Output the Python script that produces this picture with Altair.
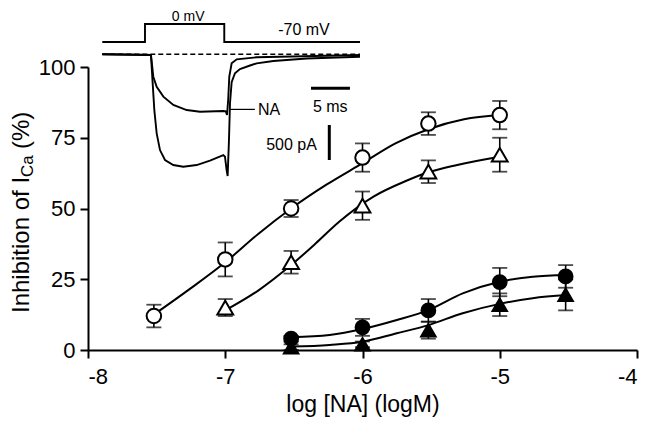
import altair as alt
import pandas as pd

FONT = "Liberation Sans"

# ---------------- main dose-response data (log M, % inhibition, s.e.m.) -------------
x_oc = [-7.52, -7.0, -6.52, -6.0, -5.52, -5.0]
y_oc = [12, 32, 50, 68, 80, 83]
e_oc = [4, 6, 3, 5, 4, 5]

x_ot = [-7.0, -6.52, -6.0, -5.52, -5.0]
y_ot = [15, 31, 51, 63, 69]
e_ot = [3, 4, 5, 4, 6]

x_fc = [-6.52, -6.0, -5.52, -5.0, -4.52]
y_fc = [4, 8, 14, 24, 26]
e_fc = [1, 3, 4, 5, 4]

x_ft = [-6.52, -6.0, -5.52, -5.0, -4.52]
y_ft = [1, 2, 7, 16, 19.5]
e_ft = [1, 1, 3, 4, 5.5]

# fitted curves
cx_oc = [-7.52, -7.26, -7.0, -6.76, -6.52, -6.26, -6.0, -5.76, -5.52, -5.26, -5.0]
cy_oc = [12.5, 21.5, 31, 41, 50, 58.5, 66, 73, 78, 81.5, 83]
cx_ot = [-7.0, -6.76, -6.52, -6.34, -6.17, -5.92, -5.68, -5.52, -5.31, -5.0]
cy_ot = [14, 21, 30, 37.7, 45.3, 54.2, 59.8, 62.8, 65.4, 68.3]
cx_fc = [-6.52, -6.24, -6.0, -5.75, -5.52, -5.27, -5.0, -4.76, -4.51]
cy_fc = [4.5, 5.3, 7.4, 10.6, 14.1, 20.0, 24.1, 25.9, 26.5]
cx_ft = [-6.52, -6.24, -6.0, -5.75, -5.52, -5.27, -5.0, -4.76, -4.51]
cy_ft = [1.2, 1.8, 2.9, 5.9, 8.8, 13.0, 16.3, 18.3, 19.4]

x_ticks = [-8, -7, -6, -5, -4]
y_ticks = [0, 25, 50, 75, 100]

# ---------------- inset: current traces (ms, pA) -----------------------------------
ctl_t = [-5.44, 0.76, 0.98, 1.19, 1.49, 1.91, 2.55, 3.61, 4.88, 6.58, 8.28, 9.98, 10.19,
         10.40, 10.53, 10.70, 10.83, 11.04, 11.46, 12.10, 13.38, 14.23, 16.35, 20.59, 27.39]
ctl_i = [0, -10, -415, -796, -1129, -1368, -1510, -1582, -1606, -1582, -1520, -1439, -1463,
         -1653, -1739, -1225, -700, -400, -270, -210, -160, -130, -95, -60, -35]
na_t = [-5.44, 0.76, 1.06, 1.49, 2.34, 3.61, 5.31, 7.01, 9.98, 10.30, 10.45, 10.60, 10.74,
        11.04, 11.68, 14.23, 27.39]
na_i = [0, -10, -320, -463, -605, -724, -796, -820, -810, -815, -867, -650, -320,
        -129, -72, -43, -10]
vp_t = [-5.44, 0, 0, 10.1, 10.1, 27.39]
vp_i = [176, 176, 433, 433, 176, 176]
base_t = [-5.44, 27.39]
base_i = [0, 0]

# ---------------- tables ------------------------------------------------------------
series = [
    ("oc", x_oc, y_oc, e_oc, cx_oc, cy_oc, "circle", "white", 210),
    ("ot", x_ot, y_ot, e_ot, cx_ot, cy_ot, "triangle-up", "white", 250),
    ("fc", x_fc, y_fc, e_fc, cx_fc, cy_fc, "circle", "black", 190),
    ("ft", x_ft, y_ft, e_ft, cx_ft, cy_ft, "triangle-up", "black", 210),
]

pt_rows, cv_rows = [], []
for name, xs, ys, es, cxs, cys, *_ in series:
    for xv, yv, ev in zip(xs, ys, es):
        pt_rows.append({"s": name, "x": xv, "y": yv, "lo": yv - ev, "hi": yv + ev})
    for i, (xv, yv) in enumerate(zip(cxs, cys)):
        cv_rows.append({"s": name, "x": xv, "y": yv, "k": i})
pts = pd.DataFrame(pt_rows)
cvs = pd.DataFrame(cv_rows)

xscale = alt.Scale(domain=[-8, -4], nice=False, zero=False)
yscale = alt.Scale(domain=[0, 100], nice=False, zero=False)
xaxis = alt.Axis(values=x_ticks, title="log [NA] (logM)", grid=False,
                 labelExpr="'' + datum.value",
                 labelFontSize=22, titleFontSize=23, tickSize=8, tickWidth=2,
                 domainWidth=2, labelPadding=8, titlePadding=6,
                 domainColor="black", tickColor="black", labelColor="black",
                 titleColor="black", labelFont=FONT, titleFont=FONT,
                 titleFontWeight="normal")
yaxis = alt.Axis(values=y_ticks, title=None, grid=False, labelFontSize=22,
                 tickSize=8, tickWidth=2, domainWidth=2, labelPadding=5,
                 domainColor="black", tickColor="black", labelColor="black",
                 labelFont=FONT)


def X(field):
    return alt.X(field, type="quantitative", scale=xscale, axis=xaxis)


def Y(field):
    return alt.Y(field, type="quantitative", scale=yscale, axis=yaxis)


errbar = alt.Chart(pts).mark_rule(color="black", strokeWidth=1.6).encode(
    x=X("x"), y=Y("lo"), y2="hi")
cap_lo = alt.Chart(pts).mark_tick(color="black", orient="horizontal", size=15,
                                  thickness=1.8).encode(x=X("x"), y=Y("lo"))
cap_hi = alt.Chart(pts).mark_tick(color="black", orient="horizontal", size=15,
                                  thickness=1.8).encode(x=X("x"), y=Y("hi"))
curves = alt.Chart(cvs).mark_line(color="black", strokeWidth=2,
                                  interpolate="monotone").encode(
    x=X("x"), y=Y("y"), detail="s:N", order="k:Q")

marker_layers = []
for name, xs, ys, es, cxs, cys, shape, fill, size in series:
    marker_layers.append(
        alt.Chart(pts[pts.s == name]).mark_point(
            shape=shape, filled=True, fill=fill, stroke="black", strokeWidth=2,
            size=size, opacity=1).encode(x=X("x"), y=Y("y"))
    )

# y-axis title with subscript
ytitle = []
for txt, xp, yp, fs in [("Inhibition of I", -66, 246, 24), ("Ca", -60, 110, 17),
                        ("(%)", -66, 82, 24)]:
    ytitle.append(
        alt.Chart(pd.DataFrame({"t": [txt]})).mark_text(
            angle=270, align="left", baseline="middle", font=FONT, fontSize=fs,
            color="black").encode(text="t:N", x=alt.value(xp), y=alt.value(yp))
    )

main = alt.layer(errbar, cap_lo, cap_hi, curves, *marker_layers, *ytitle)

# ---------------- inset ------------------------------------------------------------
tr_rows = []
for name, ts, cs in [("ctl", ctl_t, ctl_i), ("na", na_t, na_i), ("vp", vp_t, vp_i)]:
    for k, (tv, cv) in enumerate(zip(ts, cs)):
        tr_rows.append({"tr": name, "t": tv, "i": cv, "k": k})
trs = pd.DataFrame(tr_rows)
bl = pd.DataFrame({"t": base_t, "i": base_i, "k": [0, 1]})

tscale = alt.Scale(domain=[-7.26, 62.68], nice=False, zero=False)
iscale = alt.Scale(domain=[-4224, -181.5], nice=False, zero=False)


def T(field):
    return alt.X(field, type="quantitative", scale=tscale, axis=None)


def I(field):
    return alt.Y(field, type="quantitative", scale=iscale, axis=None)


traces = alt.Chart(trs).mark_line(color="black", strokeWidth=1.9).encode(
    x=T("t"), y=I("i"), detail="tr:N", order="k:Q")
baseline = alt.Chart(bl).mark_line(color="black", strokeWidth=1.4,
                                   strokeDash=[5, 3]).encode(
    x=T("t"), y=I("i"), order="k:Q")

bars = pd.DataFrame({
    "t": [21.15, 23.48, 10.75],
    "t2": [26.11, 23.48, 14.0],
    "i": [-486, -1010, -787],
    "i2": [-486, -1510, -787],
    "w": [3, 3, 1.2],
})
scalebars = alt.Chart(bars).mark_rule(color="black").encode(
    x=T("t"), x2="t2", y=I("i"), y2="i2",
    strokeWidth=alt.StrokeWidth("w:Q", scale=None, legend=None))

labels = pd.DataFrame({
    "txt": ["-70 mV", "NA", "5 ms"],
    "t": [20.25, 15.8, 23.6],
    "i": [347, -796, -748],
})
lab_c = alt.Chart(labels).mark_text(
    font=FONT, fontSize=16, color="black", align="center", baseline="middle").encode(
    x=T("t"), y=I("i"), text="txt:N")
lab_r = alt.Chart(pd.DataFrame({"txt": ["500 pA"], "t": [21.9], "i": [-1296]})).mark_text(
    font=FONT, fontSize=16, color="black", align="right", baseline="middle").encode(
    x=T("t"), y=I("i"), text="txt:N")
lab_top = alt.Chart(pd.DataFrame({"txt": ["0 mV"], "t": [5.5], "i": [469]})).mark_text(
    font=FONT, fontSize=14, color="black", align="center", baseline="alphabetic").encode(
    x=T("t"), y=I("i"), text="txt:N")

inset = alt.layer(baseline, traces, scalebars, lab_c, lab_r, lab_top)

chart = alt.layer(main, inset).resolve_scale(
    x="independent", y="independent"
).properties(
    width=549, height=283,
    autosize=alt.AutoSizeParams(type="none"),
    padding={"left": 80, "top": 59, "right": 8, "bottom": 76},
    background="white",
).configure_view(stroke=None)

chart.save("out.html", embed_options={"renderer": "svg", "actions": False})
